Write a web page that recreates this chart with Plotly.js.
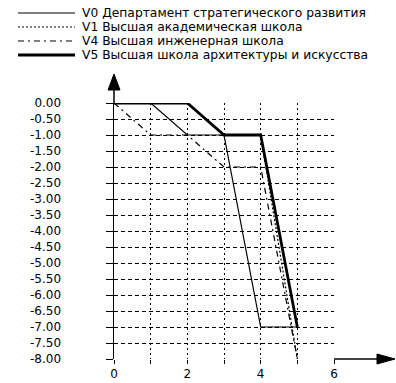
<!DOCTYPE html>
<html>
<head>
<meta charset="utf-8">
<script src="https://cdn.plot.ly/plotly-3.0.1.min.js"></script>
<style>html,body{margin:0;padding:0;background:#fff;}#chart{width:396px;height:383px;}</style>
</head>
<body>
<div id="chart"></div>
<script>
// Data
const xSteps = [0, 1, 2, 3, 4, 5];
const seriesNames = [
  "V0 Департамент стратегического развития",
  "V1 Высшая академическая школа",
  "V4 Высшая инженерная школа",
  "V5 Высшая школа архитектуры и искусства"
];
const v0 = [0, 0, -1, -1, -7, -7];
const v1 = [0, 0, 0, -1, -1, -8];
const v4 = [0, -1, -1, -2, -2, -8];
const v5 = [0, 0, 0, -1, -1, -7];
const yTickVals = [0, -0.5, -1, -1.5, -2, -2.5, -3, -3.5, -4, -4.5, -5, -5.5, -6, -6.5, -7, -7.5, -8];
const yTickText = yTickVals.map(v => (v < 0 ? "-" : "") + Math.abs(v).toFixed(2));
const xTickVals = [0, 1, 2, 3, 4, 5, 6];
const xTickText = ["0", "", "2", "", "4", "", "6"];

// Layout geometry (pixels of plot area)
const L = 114, R = 334, T = 103, B = 359;
const W = 396, H = 383;
const px = x => (x - L) / (R - L);
const py = y => (B - y) / (B - T);

const FONT = "DejaVu Sans, Arial, sans-serif";
const styles = [
  {width: 1.2, dash: "solid", color: "#000"},
  {width: 1.2, dash: "2px,2px", color: "#000"},
  {width: 1.2, dash: "6px,4px,2px,4px", color: "#000"},
  {width: 2.8, dash: "solid", color: "#000"}
];
const seriesData = [v0, v1, v4, v5];
const order = [1, 2, 0, 3];

const traces = order.map(i => ({
  type: "scatter", mode: "lines", x: xSteps, y: seriesData[i],
  name: seriesNames[i], showlegend: false, cliponaxis: false,
  line: {color: styles[i].color, width: styles[i].width, dash: styles[i].dash}
}));

const shapes = [];
const annotations = [];
// manual legend
const rowY = [13, 27, 41, 55];
seriesNames.forEach((n, i) => {
  shapes.push({type: "line", xref: "paper", yref: "paper",
    x0: px(18), x1: px(75), y0: py(rowY[i]), y1: py(rowY[i]),
    line: {color: styles[i].color, width: styles[i].width, dash: styles[i].dash}});
  annotations.push({xref: "paper", yref: "paper", x: px(80), y: py(rowY[i]),
    xanchor: "left", yanchor: "middle", showarrow: false, text: n,
    font: {family: FONT, size: 12.3, color: "#000"}});
});
// axis arrows
shapes.push({type: "line", xref: "paper", yref: "paper", x0: 0, x1: 0, y0: 1, y1: py(89), line: {color: "#000", width: 1.5}});
shapes.push({type: "path", xref: "paper", yref: "paper",
  path: `M ${px(108)} ${py(90)} L ${px(114)} ${py(74)} L ${px(120)} ${py(90)} Z`,
  fillcolor: "#000", line: {color: "#000", width: 1}});
shapes.push({type: "line", xref: "paper", yref: "paper", x0: 1, x1: px(378), y0: 0, y1: 0, line: {color: "#000", width: 1.5}});
shapes.push({type: "path", xref: "paper", yref: "paper",
  path: `M ${px(377)} ${py(354)} L ${px(395)} ${py(359)} L ${px(377)} ${py(364)} Z`,
  fillcolor: "#000", line: {color: "#000", width: 1}});

const layout = {
  width: W, height: H,
  margin: {l: L, r: W - R, t: T, b: H - B, pad: 0},
  paper_bgcolor: "#fff", plot_bgcolor: "#fff",
  showlegend: false,
  font: {family: FONT, size: 12, color: "#000"},
  xaxis: {
    range: [0, 6], tickmode: "array", tickvals: xTickVals, ticktext: xTickText,
    showgrid: true, gridcolor: "#000", gridwidth: 1, griddash: "2px,3px",
    zeroline: false, showline: false,
    ticks: "outside", ticklen: 4, tickcolor: "#000", tickwidth: 1,
    tickfont: {family: FONT, size: 12, color: "#000"}, fixedrange: true
  },
  yaxis: {
    range: [-8, 0], tickmode: "array", tickvals: yTickVals, ticktext: yTickText,
    showgrid: true, gridcolor: "#000", gridwidth: 1, griddash: "4px,3px",
    zeroline: false, showline: true, linecolor: "#000", linewidth: 1.5,
    ticks: "outside", ticklen: 7, tickcolor: "#000", tickwidth: 1,
    ticklabelstandoff: 42,
    tickfont: {family: FONT, size: 12, color: "#000"}, fixedrange: true
  },
  shapes: shapes,
  annotations: annotations
};

Plotly.newPlot("chart", traces, layout, {staticPlot: true, displayModeBar: false});
</script>
</body>
</html>
